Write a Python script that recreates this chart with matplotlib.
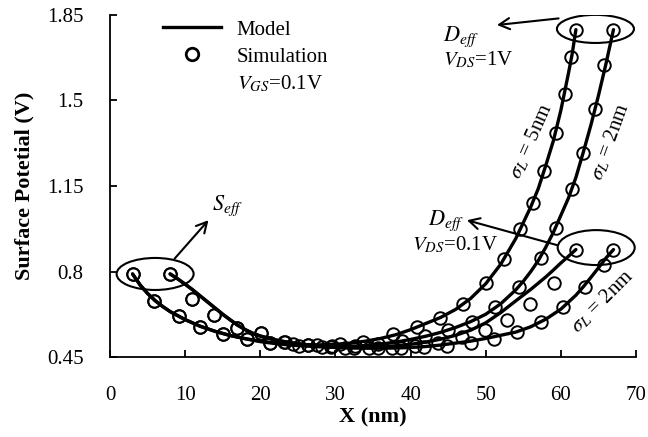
import matplotlib
matplotlib.use("Agg")
import matplotlib.pyplot as plt
from matplotlib.patches import Ellipse
from matplotlib.lines import Line2D

plt.rcParams['font.family'] = ['Liberation Serif', 'DejaVu Serif']
plt.rcParams['mathtext.fontset'] = 'stix'

# ---- model curves (surface potential vs position) ----
# VDS = 1 V, sigma_L = 5 nm
x_m_1v_5 = [3, 4, 5, 6, 7, 8, 10, 12, 14, 16, 18, 20, 22, 24, 26, 28, 30, 32, 34, 36, 38,
            40, 42, 44, 46, 48, 50, 52, 54, 55, 56, 57, 58, 59, 60, 61, 61.5, 62]
y_m_1v_5 = [0.79, 0.745, 0.71, 0.681, 0.657, 0.636, 0.603, 0.576, 0.555, 0.538, 0.525, 0.515,
            0.508, 0.503, 0.500, 0.500, 0.502, 0.507, 0.515, 0.526, 0.541, 0.562, 0.587, 0.612,
            0.645, 0.690, 0.750, 0.830, 0.935, 1.000, 1.065, 1.140, 1.235, 1.335, 1.460, 1.610,
            1.690, 1.790]
# VDS = 1 V, sigma_L = 2 nm
x_m_1v_2 = [8, 9, 10, 11, 12, 13, 14, 15, 16, 17, 18, 19, 20, 22, 24, 26, 28, 30, 32, 34, 36,
            38, 40, 42, 44, 46, 48, 50, 52, 54, 55, 56, 57, 58, 59, 60, 61, 62, 63, 64, 65, 66,
            66.5, 67]
y_m_1v_2 = [0.79, 0.77, 0.748, 0.725, 0.70, 0.675, 0.65, 0.625, 0.602, 0.58, 0.562, 0.547,
            0.536, 0.52, 0.509, 0.501, 0.496, 0.494, 0.494, 0.497, 0.503, 0.511, 0.522, 0.535,
            0.551, 0.571, 0.595, 0.625, 0.668, 0.725, 0.76, 0.80, 0.845, 0.90, 0.96, 1.03, 1.10,
            1.185, 1.29, 1.40, 1.52, 1.65, 1.72, 1.79]
# VDS = 0.1 V, sigma_L = 5 nm
x_m_01v_5 = [3, 4, 5, 6, 7, 8, 10, 12, 14, 16, 18, 20, 22, 24, 26, 28, 30, 32, 34, 36, 38, 40,
             42, 44, 46, 48, 50, 52, 54, 56, 58, 59, 60, 61, 62]
y_m_01v_5 = [0.79, 0.745, 0.71, 0.681, 0.657, 0.636, 0.603, 0.576, 0.555, 0.538, 0.525, 0.513,
             0.505, 0.499, 0.495, 0.492, 0.490, 0.489, 0.490, 0.492, 0.496, 0.502, 0.511, 0.523,
             0.539, 0.560, 0.590, 0.632, 0.680, 0.727, 0.778, 0.806, 0.835, 0.862, 0.89]
# VDS = 0.1 V, sigma_L = 2 nm
x_m_01v_2 = [8, 9, 10, 11, 12, 13, 14, 15, 16, 17, 18, 19, 20, 22, 24, 26, 28, 30, 32, 34, 36,
             38, 40, 42, 44, 46, 48, 50, 52, 54, 56, 58, 60, 62, 63, 64, 65, 66, 67]
y_m_01v_2 = [0.79, 0.77, 0.748, 0.725, 0.70, 0.675, 0.65, 0.625, 0.602, 0.58, 0.562, 0.547,
             0.536, 0.52, 0.508, 0.499, 0.493, 0.489, 0.487, 0.486, 0.486, 0.487, 0.489, 0.493,
             0.499, 0.507, 0.515, 0.526, 0.539, 0.552, 0.574, 0.605, 0.646, 0.703, 0.738, 0.776,
             0.815, 0.855, 0.89]

# ---- simulation points ----
x_s_1v_5 = [3, 5.9, 9.2, 12.0, 15.1, 18.2, 21.3, 24.4, 27.5, 30.6, 33.7, 37.7, 40.8, 43.9,
            47.0, 50.1, 52.4, 54.6, 56.3, 57.7, 59.3, 60.5, 61.4, 62]
y_s_1v_5 = [0.79, 0.681, 0.618, 0.574, 0.544, 0.522, 0.508, 0.502, 0.499, 0.503, 0.513, 0.544,
            0.574, 0.608, 0.667, 0.754, 0.850, 0.973, 1.080, 1.210, 1.368, 1.525, 1.680, 1.790]
x_s_1v_2 = [8, 10.9, 13.9, 16.9, 20.1, 23.3, 26.4, 29.5, 32.6, 35.7, 38.8, 41.9, 45.0, 48.2,
            51.3, 54.4, 57.3, 59.3, 61.5, 63.0, 64.6, 65.8, 67]
y_s_1v_2 = [0.79, 0.686, 0.622, 0.570, 0.550, 0.512, 0.500, 0.494, 0.495, 0.503, 0.515, 0.535,
            0.560, 0.594, 0.653, 0.735, 0.854, 0.977, 1.136, 1.286, 1.464, 1.645, 1.790]
x_s_01v_5 = [3, 5.9, 9.2, 12.0, 15.1, 18.2, 21.3, 25.1, 28.2, 31.3, 34.4, 37.5, 40.6, 43.7,
             46.8, 49.9, 52.8, 55.9, 59.1, 62]
y_s_01v_5 = [0.79, 0.681, 0.618, 0.574, 0.544, 0.522, 0.508, 0.496, 0.491, 0.488, 0.487, 0.489,
             0.495, 0.508, 0.530, 0.560, 0.600, 0.668, 0.754, 0.89]
x_s_01v_2 = [8, 10.9, 13.9, 16.9, 20.1, 23.2, 26.3, 29.4, 32.5, 35.6, 38.7, 41.8, 44.9, 48.0,
             51.1, 54.2, 57.3, 60.3, 63.2, 65.7, 67]
y_s_01v_2 = [0.79, 0.686, 0.622, 0.570, 0.550, 0.512, 0.499, 0.491, 0.488, 0.487, 0.487, 0.490,
             0.497, 0.508, 0.525, 0.553, 0.594, 0.656, 0.738, 0.826, 0.89]

x_ticks = [0, 10, 20, 30, 40, 50, 60, 70]
y_ticks = [0.45, 0.8, 1.15, 1.5, 1.85]
y_tick_labels = ['0.45', '0.8', '1.15', '1.5', '1.85']

fig = plt.figure(figsize=(6.48, 4.37), dpi=100)
ax = fig.add_axes([0.1698, 0.183, 0.8117, 0.7827])

line_kw = dict(color='black', lw=2.4, solid_capstyle='round', zorder=3)
mark_kw = dict(ls='none', marker='o', ms=9, mfc='none', mec='black', mew=1.4, zorder=2)

for xs, ys in [(x_m_1v_5, y_m_1v_5), (x_m_1v_2, y_m_1v_2),
               (x_m_01v_5, y_m_01v_5), (x_m_01v_2, y_m_01v_2)]:
    ax.plot(xs, ys, **line_kw)
for xs, ys in [(x_s_1v_5, y_s_1v_5), (x_s_1v_2, y_s_1v_2),
               (x_s_01v_5, y_s_01v_5), (x_s_01v_2, y_s_01v_2)]:
    ax.plot(xs, ys, **mark_kw)

ax.set_xlim(0, 70)
ax.set_ylim(0.45, 1.85)
ax.set_xticks(x_ticks)
ax.set_yticks(y_ticks)
ax.set_yticklabels(y_tick_labels)
for s in ['top', 'right']:
    ax.spines[s].set_visible(False)
for s in ['left', 'bottom']:
    ax.spines[s].set_linewidth(1.3)
ax.tick_params(direction='in', length=5, width=1.3, labelsize=15)
ax.tick_params(axis='x', pad=21)
ax.tick_params(axis='y', pad=19)
ax.set_xlabel('X (nm)', fontsize=16, fontweight='bold', labelpad=2)
ax.set_ylabel('Surface Potetial (V)', fontsize=16, fontweight='bold', labelpad=9)

# legend
handles = [Line2D([], [], color='black', lw=2.4),
           Line2D([], [], ls='none', marker='o', ms=9, mfc='none', mec='black', mew=2),
           Line2D([], [], ls='none')]
labels = ['Model', 'Simulation', '$V_{GS}$=0.1V']
ax.legend(handles, labels, loc='upper left', bbox_to_anchor=(0.10, 0.985), frameon=False,
          fontsize=15, handlelength=2.8, handletextpad=0.75, borderpad=0, borderaxespad=0,
          labelspacing=0.35)

arrow_kw = dict(arrowstyle='->,head_length=0.75,head_width=0.4', lw=1.5, color='black',
                shrinkA=0, shrinkB=0)

# source-end ellipse and annotation
ax.add_patch(Ellipse((6.0, 0.79), 10.25, 0.131, fill=False, lw=1.5, ec='black', zorder=4))
ax.annotate('', xy=(13.1, 1.01), xytext=(8.6, 0.853), arrowprops=arrow_kw)
ax.text(13.6, 1.02, '$S_{eff}$', fontsize=16, ha='left', va='bottom')

# drain-end ellipses
ax.add_patch(Ellipse((64.6, 1.793), 10.25, 0.115, fill=False, lw=1.5, ec='black', zorder=4))
ax.annotate('', xy=(51.5, 1.809), xytext=(59.7, 1.836), arrowprops=arrow_kw)
ax.text(44.3, 1.745, '$D_{eff}$', fontsize=16, ha='left', va='baseline')
ax.text(44.3, 1.645, '$V_{DS}$=1V', fontsize=15, ha='left', va='baseline')

ax.add_patch(Ellipse((64.7, 0.898), 10.25, 0.143, fill=False, lw=1.5, ec='black', zorder=4))
ax.annotate('', xy=(47.5, 1.01), xytext=(59.5, 0.908), arrowprops=arrow_kw)
ax.text(42.3, 0.99, '$D_{eff}$', fontsize=16, ha='left', va='baseline')
ax.text(40.2, 0.885, '$V_{DS}$=0.1V', fontsize=15, ha='left', va='baseline')

# sigma_L labels along curves
ax.text(56.1, 1.334, r'$\sigma_L$ = 5nm', fontsize=15, rotation=66, ha='center', va='center',
        rotation_mode='anchor')
ax.text(66.6, 1.331, r'$\sigma_L$ = 2nm', fontsize=15, rotation=70, ha='center', va='center',
        rotation_mode='anchor')
ax.text(65.5, 0.676, r'$\sigma_L$ = 2nm', fontsize=15, rotation=45, ha='center', va='center',
        rotation_mode='anchor')

fig.savefig('out.png', dpi=100)
